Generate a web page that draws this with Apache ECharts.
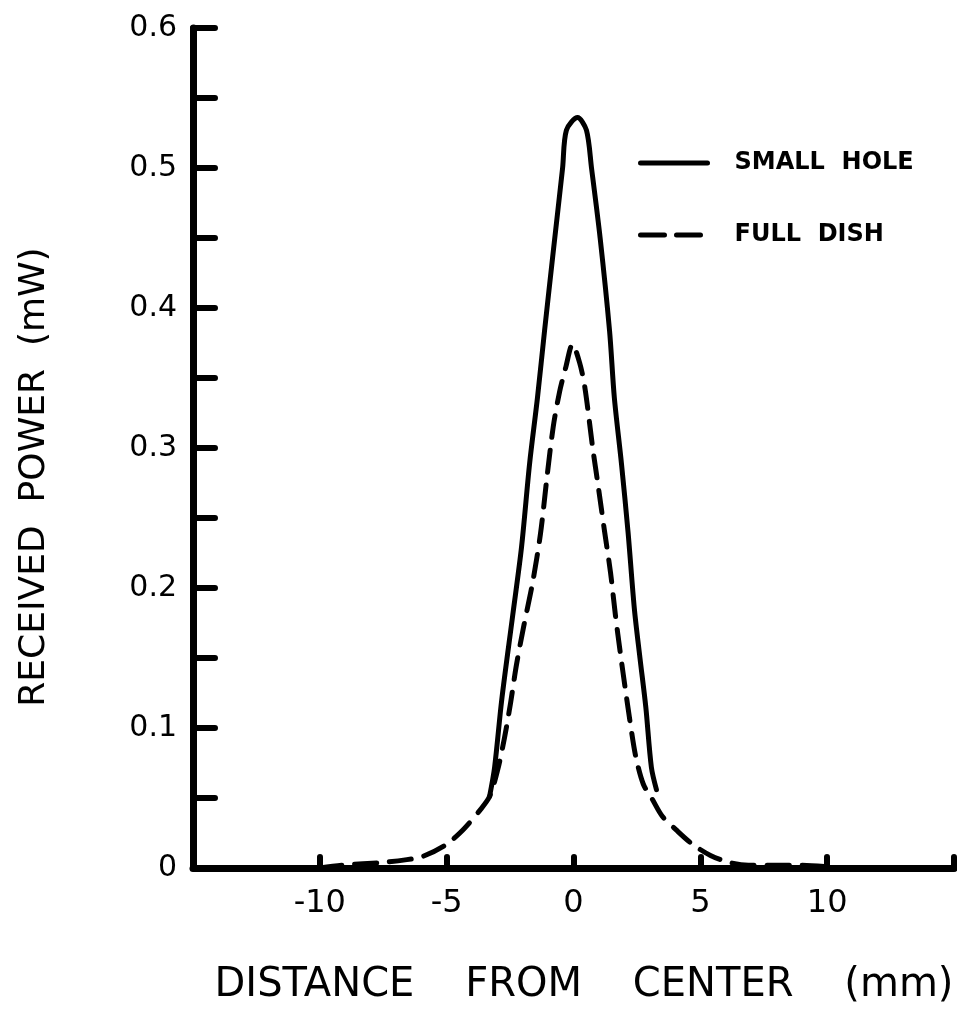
<!DOCTYPE html>
<html>
<head>
<meta charset="utf-8">
<script src="https://cdn.jsdelivr.net/npm/echarts@6/dist/echarts.min.js"></script>
<style>
html,body{margin:0;padding:0;background:#fff;}
#chart{width:957px;height:1024px;}
</style>
</head>
<body>
<div id="chart"></div>
<script>
// ---- data ----
const seriesNames = ['SMALL  HOLE', 'FULL  DISH'];
const smallHoleX = [-3.31, -3.11, -2.83, -2.40, -2.05, -1.73, -1.42, -1.14, -0.80, -0.43, -0.28, 0.16, 0.51, 0.71, 1.05, 1.42, 1.61, 1.89, 2.15, 2.40, 2.62, 2.85, 3.07, 3.27];
const smallHoleY = [0.051, 0.072, 0.120, 0.180, 0.229, 0.289, 0.336, 0.384, 0.440, 0.500, 0.527, 0.536, 0.527, 0.500, 0.450, 0.384, 0.336, 0.289, 0.240, 0.185, 0.150, 0.115, 0.072, 0.056];
const fullDishX = [-10, -9.1, -7.5, -6.57, -5.98, -5.08, -4.37, -3.70, -3.31, -2.99, -2.72, -2.48, -2.25, -1.97, -1.61, -1.30, -1.04, -0.80, -0.55, -0.30, -0.04, 0.24, 0.45, 0.75, 0.98, 1.22, 1.46, 1.65, 1.85, 2.05, 2.25, 2.45, 2.75, 3.11, 3.50, 4.06, 4.69, 5.40, 6.14, 6.9, 8.8, 10.6];
const fullDishY = [0, 0.002, 0.004, 0.006, 0.008, 0.016, 0.027, 0.041, 0.051, 0.070, 0.093, 0.118, 0.145, 0.172, 0.204, 0.239, 0.280, 0.315, 0.340, 0.358, 0.374, 0.361, 0.343, 0.301, 0.272, 0.241, 0.211, 0.181, 0.153, 0.127, 0.102, 0.080, 0.060, 0.049, 0.037, 0.027, 0.017, 0.009, 0.004, 0.002, 0.002, 0];
const xTickLabels = ['-10', '-5', '0', '5', '10'];
const yTickLabels = ['0', '0.1', '0.2', '0.3', '0.4', '0.5', '0.6'];
const xTitle = 'DISTANCE    FROM    CENTER    (mm)';
const yTitle = 'RECEIVED  POWER  (mW)';

const zip = (xs, ys) => xs.map((x, i) => [x, ys[i]]);
const FONT = 'DejaVu Sans';

const chart = echarts.init(document.getElementById('chart'), null, {renderer: 'canvas'});
chart.setOption({
  backgroundColor: '#ffffff',
  animation: false,
  grid: {left: 193, right: 2, top: 28, bottom: 156, containLabel: false},
  xAxis: {
    type: 'value', min: -15, max: 15, interval: 5,
    axisLine: {show: true, onZero: false, lineStyle: {color: '#000', width: 7, cap: 'round'}},
    axisTick: {show: true, inside: true, length: 11, lineStyle: {color: '#000', width: 6, cap: 'round'}},
    splitLine: {show: false},
    axisLabel: {
      show: true, margin: 20, color: '#000', fontFamily: FONT, fontSize: 32,
      formatter: v => { const s = String(v); return xTickLabels.indexOf(s) >= 0 ? s : ''; }
    }
  },
  yAxis: {
    type: 'value', min: 0, max: 0.6, interval: 0.05,
    axisLine: {show: true, onZero: false, lineStyle: {color: '#000', width: 7, cap: 'round'}},
    axisTick: {show: true, inside: true, length: 22, lineStyle: {color: '#000', width: 6, cap: 'round'}},
    splitLine: {show: false},
    axisLabel: {
      show: true, margin: 16, color: '#000', fontFamily: FONT, fontSize: 30,
      formatter: v => {
        const k = Math.round(v * 10);
        if (Math.abs(v * 10 - k) > 1e-6) return '';
        return yTickLabels[k] || '';
      }
    }
  },
  legend: {
    orient: 'vertical', left: 633, top: 143, itemWidth: 67, itemHeight: 14, itemGap: 42,
    textStyle: {color: '#000', fontFamily: FONT, fontWeight: 'bold', fontSize: 24, lineHeight: 30, padding: [0, 0, 0, 22]},
    data: [
      {name: seriesNames[0], itemStyle: {opacity: 0}, lineStyle: {color: '#000', width: 5, type: 'solid'}},
      {name: seriesNames[1], itemStyle: {opacity: 0}, lineStyle: {color: '#000', width: 5, type: [24, 12]}}
    ]
  },
  graphic: [
    {type: 'text', x: 35, y: 477, rotation: Math.PI / 2,
     style: {text: yTitle, fill: '#000', font: '36px "DejaVu Sans"', textAlign: 'center', textVerticalAlign: 'middle'}},
    {type: 'text', x: 584, y: 986,
     style: {text: xTitle, fill: '#000', font: '40px "DejaVu Sans"', textAlign: 'center', textVerticalAlign: 'middle'}}
  ],
  series: [
    {
      name: seriesNames[0], type: 'line', data: zip(smallHoleX, smallHoleY),
      symbol: 'none', smooth: 0.3, z: 3,
      lineStyle: {color: '#000', width: 5, type: 'solid', cap: 'round', join: 'round'},
      itemStyle: {color: '#000'}
    },
    {
      name: seriesNames[1], type: 'line', data: zip(fullDishX, fullDishY),
      symbol: 'none', smooth: 0.3, z: 3,
      lineStyle: {color: '#000', width: 5, type: [22, 13], cap: 'round', join: 'round'},
      itemStyle: {color: '#000'}
    }
  ]
});
</script>
</body>
</html>
